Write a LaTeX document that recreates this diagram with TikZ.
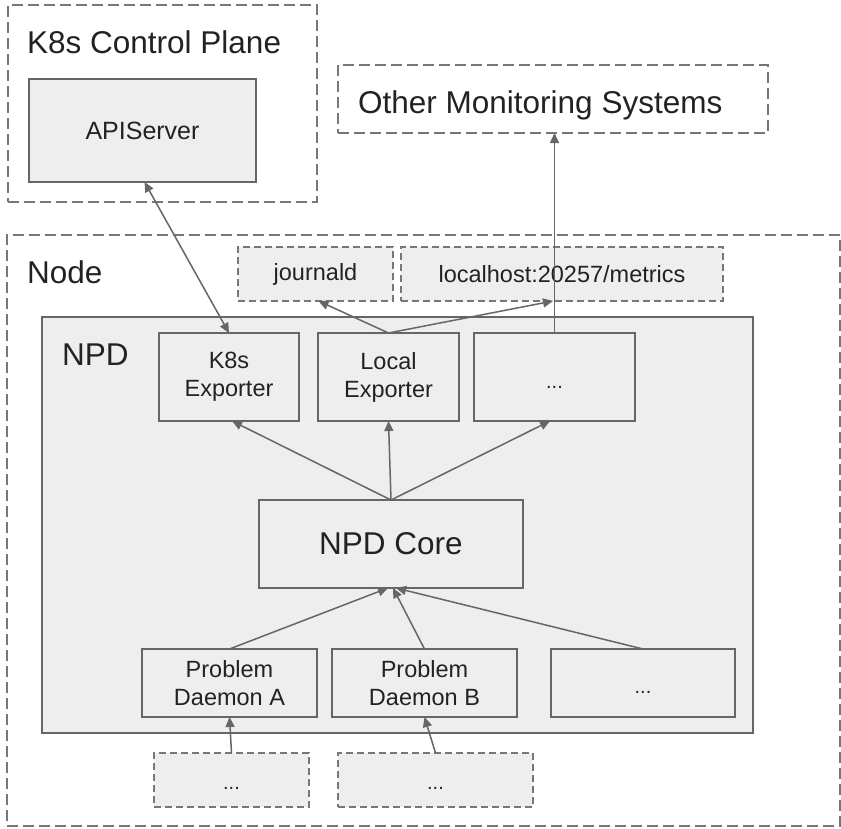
\documentclass[tikz,border=0pt]{standalone}
\usepackage{fontspec}
\setmainfont{Liberation Sans}
\usetikzlibrary{arrows.meta,calc}
\definecolor{edgegray}{HTML}{666666}
\definecolor{dashgray}{HTML}{777777}
\definecolor{boxfill}{HTML}{EEEEEE}
\definecolor{txt}{HTML}{222222}
\begin{document}
\begin{tikzpicture}[x=1pt,y=-1pt,
  bigfont/.style={font=\fontsize{31.5}{36}\selectfont},
  smallfont/.style={font=\fontsize{23.5}{28}\selectfont},
  dotsfont/.style={font=\fontsize{20}{24}\selectfont, text height=20pt, text depth=0pt},
  basebox/.style={inner sep=0pt, outer sep=0pt, text=txt, align=center, smallfont},
  solidbox/.style={basebox, draw=edgegray, fill=boxfill, line width=1.6pt},
  bigdash/.style={basebox, draw=dashgray, line width=1.6pt, dash pattern=on 11pt off 5pt},
  smalldash/.style={basebox, draw=dashgray, fill=boxfill, line width=1.6pt, dash pattern=on 7pt off 4pt},
  lbl/.style={anchor=base west, inner sep=0pt, text=txt, bigfont},
  arr/.style={draw=edgegray, line width=1.5pt, -{Triangle[length=10pt,width=9pt]}},
  darr/.style={draw=edgegray, line width=1.5pt, {Triangle[length=10pt,width=9pt]}-{Triangle[length=10pt,width=9pt]}}
]
\useasboundingbox (0,0) rectangle (841,828);

% containers
\node[bigdash, minimum width=309pt, minimum height=197pt] (cp) at (162.5,103.5) {};
\node[lbl] (cplabel) at (27,53) {K8s Control Plane};
\node[solidbox, minimum width=227pt, minimum height=103pt, font=\fontsize{25}{30}\selectfont] (api) at (142.5,130.5) {APIServer};

\node[bigdash, minimum width=430pt, minimum height=68pt] (oms) at (553,99) {};
\node[lbl] (omslabel) at (358,113) {Other Monitoring Systems};

\node[bigdash, minimum width=833pt, minimum height=591pt] (node) at (423.5,530.5) {};
\node[lbl] (nodelabel) at (27,283) {Node};

\node[smalldash, minimum width=155pt, minimum height=54pt] (jd) at (315.5,274) {journald};
\node[smalldash, minimum width=322pt, minimum height=54pt] (lh) at (562,274) {localhost:20257/metrics};

\node[solidbox, minimum width=711pt, minimum height=416pt] (npd) at (397.5,525) {};
\node[lbl] (npdlabel) at (62,365) {NPD};

\node[solidbox, minimum width=140pt, minimum height=88pt] (k8s) at (229,377) {K8s\\Exporter};
\node[solidbox, minimum width=141pt, minimum height=88pt] (loc) at (388.5,377) {Local\\Exporter};
\node[solidbox, minimum width=161pt, minimum height=88pt, dotsfont, text height=22pt] (dotsa) at (554.5,377) {...};

\node[solidbox, minimum width=264pt, minimum height=88pt, bigfont] (core) at (391,544) {NPD Core};

\node[solidbox, minimum width=175pt, minimum height=68pt] (pda) at (229.5,683) {Problem\\Daemon A};
\node[solidbox, minimum width=185pt, minimum height=68pt] (pdb) at (424.5,683) {Problem\\Daemon B};
\node[solidbox, minimum width=184pt, minimum height=68pt, dotsfont] (dotsb) at (643,683) {...};

\node[smalldash, minimum width=155pt, minimum height=54pt, dotsfont, text height=18pt] (ba) at (231.5,780) {...};
\node[smalldash, minimum width=195pt, minimum height=54pt, dotsfont, text height=18pt] (bb) at (435.5,780) {...};

% connectors
\draw[darr] ($(api.south)+(2,0)$) -- (k8s.north);
\draw[arr] (loc.north) -- ($(jd.south)+(3,0)$);
\draw[arr] (loc.north) -- ($(lh.south)+(-9,0)$);
\draw[arr] (dotsa.north) -- (dotsa.north |- oms.south);

\draw[arr] (core.north) -- ($(k8s.south)+(3,0)$);
\draw[arr] (core.north) -- (loc.south);
\draw[arr] (core.north) -- ($(dotsa.south)+(-4.5,0)$);

\draw[arr] (pda.north) -- ($(core.south)+(-3,0)$);
\draw[arr] (pdb.north) -- ($(core.south)+(2,0)$);
\draw[arr] (dotsb.north) -- ($(core.south)+(5,0)$);

\draw[arr] (ba.north) -- (pda.south);
\draw[arr] (bb.north) -- (pdb.south);
\end{tikzpicture}
\end{document}
